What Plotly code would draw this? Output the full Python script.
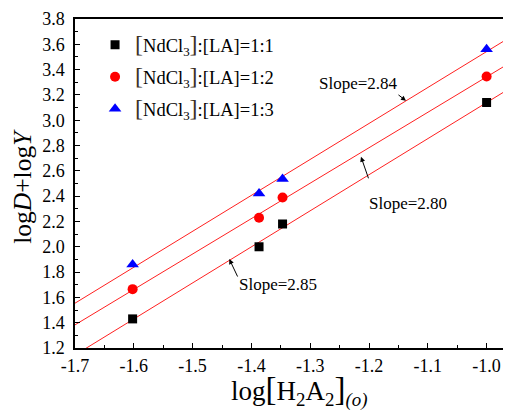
import numpy as np
import plotly.graph_objects as go

# ---- data ----
x_vals = [-1.602, -1.387, -1.347, -1.0]
y_11 = [1.43, 2.00, 2.18, 3.14]
y_12 = [1.665, 2.23, 2.39, 3.345]
y_13 = [1.86, 2.42, 2.535, 3.56]
series_names = ["1:1", "1:2", "1:3"]
slope_labels = ["Slope=2.85", "Slope=2.80", "Slope=2.84"]
x_tickvals = [-1.7, -1.6, -1.5, -1.4, -1.3, -1.2, -1.1, -1.0]
x_ticktext = ["-1.7", "-1.6", "-1.5", "-1.4", "-1.3", "-1.2", "-1.1", "-1.0"]
y_tickvals = [1.2, 1.4, 1.6, 1.8, 2.0, 2.2, 2.4, 2.6, 2.8, 3.0, 3.2, 3.4, 3.6, 3.8]

FONT = "Liberation Serif"
X_RANGE = [-1.7, -0.9585]
Y_RANGE = [1.2, 3.8]

fig = go.Figure()

markers = [
    dict(symbol="square", color="black", size=9),
    dict(symbol="circle", color="red", size=10),
    dict(symbol="triangle-up", color="blue", size=11),
]
all_y = [y_11, y_12, y_13]

big = "<span style='font-size:24px;color:#3b3026'>[</span>"
bigc = "<span style='font-size:24px;color:#3b3026'>]</span>"

# fitted lines
xs_line = np.array([X_RANGE[0] - 0.05, X_RANGE[1] + 0.05])
for ys in all_y:
    k, b = np.polyfit(x_vals, ys, 1)
    fig.add_trace(go.Scatter(x=xs_line, y=k * xs_line + b, mode="lines",
                             line=dict(color="#ff2020", width=1),
                             showlegend=False, hoverinfo="skip"))

for i, (ys, mk, nm) in enumerate(zip(all_y, markers, series_names)):
    fig.add_trace(go.Scatter(
        x=x_vals, y=ys, mode="markers",
        marker=dict(symbol=mk["symbol"], color=mk["color"], size=mk["size"], line=dict(width=0)),
        name=f"{big}NdCl<sub>3</sub>{bigc}:[LA]={nm}",
        legendgroup=f"g{i}",
    ))

# slope annotations (text)
text_pos = [(-1.3548, 1.705), (-1.1337, 2.345), (-1.2187, 3.294)]
for (tx, ty), lab in zip(text_pos, slope_labels):
    fig.add_annotation(x=tx, y=ty, text=lab, showarrow=False,
                       font=dict(family=FONT, size=17, color="black"))

# arrows
arrows = [(-1.4376, 1.903, 9, 19), (-1.2136, 2.711, 8, 23), (-1.1371, 3.154, -9, -7)]
for hx, hy, ax, ay in arrows:
    fig.add_annotation(x=hx, y=hy, ax=ax, ay=ay, text="", showarrow=True,
                       arrowhead=2, arrowsize=1, arrowwidth=1, arrowcolor="black")

# axis titles
fig.add_annotation(xref="paper", yref="paper", x=-0.157, y=0.49,
                   text="log<i>D</i>+log<i>Y</i>", textangle=-90, showarrow=False,
                   font=dict(family=FONT, size=25.5, color="black"))
fig.add_annotation(xref="paper", yref="paper", x=0.513, y=-0.131, yanchor="middle",
                   text="log<span style='font-size:33px'>[</span>H<sub>2</sub>A<sub>2</sub><span style='font-size:33px'>]</span><sub><i>(o)</i></sub>",
                   showarrow=False, font=dict(family=FONT, size=27, color="black"))

# page body has an 8px margin: figure drawn from (8,8)
fig.update_layout(
    width=503, height=411,
    margin=dict(l=67, r=0, t=11, b=71),
    plot_bgcolor="white", paper_bgcolor="white",
    font=dict(family=FONT, size=18, color="black"),
    showlegend=True,
    legend=dict(x=0.046, y=0.978, xanchor="left", yanchor="top",
                bgcolor="rgba(0,0,0,0)", font=dict(family=FONT, size=18.5),
                tracegroupgap=5),
)
fig.update_xaxes(range=X_RANGE, tickvals=x_tickvals, ticktext=x_ticktext,
                 ticks="inside", ticklen=5, tickwidth=1, tickcolor="black",
                 showline=True, linecolor="black", linewidth=1.5, mirror=True,
                 showgrid=False, zeroline=False, ticklabelstandoff=1,
                 minor=dict(dtick=0.05, tick0=0, ticks="inside", ticklen=3, tickcolor="black", showgrid=False),
                 tickfont=dict(family=FONT, size=18))
fig.update_yaxes(range=Y_RANGE, tickvals=y_tickvals, tickformat=".1f",
                 ticks="inside", ticklen=5, tickwidth=1, tickcolor="black",
                 showline=True, linecolor="black", linewidth=1.5, mirror=False,
                 showgrid=False, zeroline=False, ticklabelstandoff=5,
                 minor=dict(dtick=0.1, tick0=0, ticks="inside", ticklen=3, tickcolor="black", showgrid=False),
                 tickfont=dict(family=FONT, size=18))

fig.write_html("out.html")
